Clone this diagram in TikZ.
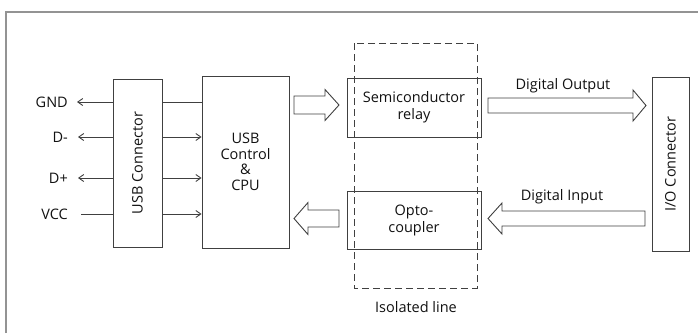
\documentclass[tikz,border=0pt]{standalone}
\usepackage{fontspec}
\setmainfont{Open Sans}
\usetikzlibrary{arrows.meta,calc}
\definecolor{ln}{HTML}{404040}
\definecolor{tx}{HTML}{111111}
\newcommand\rarrow[6]{\draw[blk] (#1,#3+#4) -- (#2,#3+#4) -- (#2,#3+#5) -- (#6,#3) -- (#2,#3-#5) -- (#2,#3-#4) -- (#1,#3-#4) -- cycle;}
\begin{document}
\begin{tikzpicture}[x=1pt,y=-1pt,
  font=\fontsize{14.5}{17}\selectfont, text=tx,
  box/.style={draw=ln, line width=0.9pt, rectangle, inner sep=0pt, align=center},
  blk/.style={draw=ln, line width=0.9pt, fill=white, line join=miter},
  sig/.style={draw=ln, line width=0.9pt},
  sigarr/.style={sig, -{Straight Barb[length=5pt,width=7pt,line width=0.9pt]}},
  lbl/.style={inner sep=0pt}]
\useasboundingbox (0,0) rectangle (698,333);
% frame
\draw[color=gray!85, line width=2pt] (6,333) -- (6,12) -- (698,12);
% boxes
\node[box, minimum width=49pt, minimum height=168pt] (usb) at (137.5,163) {};
\node[rotate=90, lbl] at (usb.center) {USB Connector};
\node[box, minimum width=87pt, minimum height=172pt] (cpu) at (245.5,162) {USB\\[-1.5pt]Control\\[-1.5pt]\&\\[-1.5pt]CPU};
\node[box, minimum width=134pt, minimum height=59pt] (relay) at (414,107.5) {Semiconductor\\relay};
\node[box, minimum width=134pt, minimum height=58pt] (opto) at (414,220) {Opto-\\coupler};
\node[box, minimum width=37pt, minimum height=174pt] (io) at (670.5,164) {};
\node[rotate=90, lbl] at (io.center) {I/O Connector};
% isolation
\draw[ln, line width=0.9pt, dash pattern=on 7pt off 4pt] (354,43) rectangle (477,288);
\node[lbl] (iso) at (416,307) {Isolated line};
% left signals
\node[lbl, anchor=east] (gnd) at (68,102) {GND};
\node[lbl, anchor=east] (dm) at (68,137) {D-};
\node[lbl, anchor=east] (dp) at (68,178) {D+};
\node[lbl, anchor=east] (vcc) at (68,214) {VCC};
\coordinate (gndt) at (77,102);
\coordinate (dmt) at (78,137);
\coordinate (dpt) at (78,178);
\coordinate (vcct) at (81,214);
\draw[sigarr] (usb.west |- gndt) -- (gndt);
\draw[sigarr] (usb.west |- dmt) -- (dmt);
\draw[sigarr] (usb.west |- dpt) -- (dpt);
\draw[sig] (vcct) -- (usb.west |- vcct);
% usb to cpu
\draw[sig] (usb.east |- gndt) -- (cpu.west |- gndt);
\draw[sigarr] (usb.east |- dmt) -- (cpu.west |- dmt);
\draw[sigarr] (usb.east |- dpt) -- (cpu.west |- dpt);
\draw[sigarr] (usb.east |- vcct) -- (cpu.west |- vcct);
% block arrows
\rarrow{294}{325}{105}{9}{15.5}{339}
\rarrow{339}{308}{218.5}{8.5}{16}{294}
\rarrow{488}{633}{105.5}{7.5}{15.5}{646}
\rarrow{645}{502}{218.5}{7.5}{15.5}{488}
\node[lbl] (dout) at (563,86) {Digital Output};
\node[lbl] (din) at (562,197) {Digital Input};
\end{tikzpicture}
\end{document}
